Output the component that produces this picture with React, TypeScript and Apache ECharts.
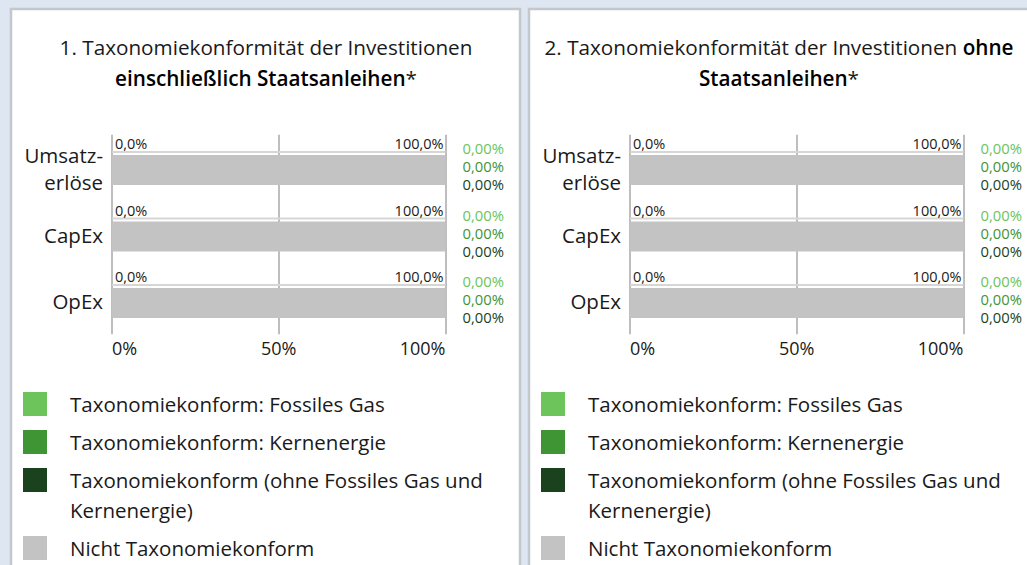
import React, { useEffect, useRef } from 'react';
import * as echarts from 'echarts';

const FONT = "'Open Sans', 'Noto Sans', sans-serif";
const TEXT = '#1a1a1a';

const categories = ['Umsatz-\nerlöse', 'CapEx', 'OpEx'];

const nameGas = 'Taxonomiekonform: Fossiles Gas';
const nameNuclear = 'Taxonomiekonform: Kernenergie';
const nameOther = 'Taxonomiekonform (ohne Fossiles Gas und Kernenergie)';
const nameNon = 'Nicht Taxonomiekonform';

// Panel 1: including sovereign bonds
const gasIncl = [0, 0, 0];
const nuclearIncl = [0, 0, 0];
const otherIncl = [0, 0, 0];
const nonIncl = [100, 100, 100];

// Panel 2: excluding sovereign bonds
const gasExcl = [0, 0, 0];
const nuclearExcl = [0, 0, 0];
const otherExcl = [0, 0, 0];
const nonExcl = [100, 100, 100];

const COLORS = {
  gas: '#6cc45a',
  nuclear: '#3f9434',
  other: '#1a421d',
  non: '#c3c3c3',
  thin: '#d6d6d6',
};

const fmt1 = (v: number) => v.toFixed(1).replace('.', ',') + '%';
const fmt2 = (v: number) => v.toFixed(2).replace('.', ',') + '%';

function buildPanel(
  idx: number,
  gas: number[],
  nuclear: number[],
  other: number[],
  non: number[],
  gridLeft: number,
  legendLeft: number,
  titleCenter: number,
  titleText: string
) {
  const taxSum = gas.map((g, i) => g + nuclear[i] + other[i]);
  const grid = { left: gridLeft, top: 134.75, width: 333.5, height: 199.5 };
  const xAxis = {
    type: 'value',
    gridIndex: idx,
    min: 0,
    max: 100,
    interval: 50,
    axisLine: { show: false },
    axisTick: { show: false },
    splitLine: { show: true, lineStyle: { color: '#a8a8a8', width: 1.5 } },
    axisLabel: {
      formatter: '{value}%',
      fontSize: 18,
      color: TEXT,
      fontFamily: FONT,
      margin: 5,
      alignMinLabel: 'left',
      alignMaxLabel: 'right',
    },
  };
  const yAxis = {
    type: 'category',
    gridIndex: idx,
    data: categories,
    inverse: true,
    axisLine: { show: false },
    axisTick: { show: false },
    axisLabel: {
      fontSize: 20.5,
      color: TEXT,
      fontFamily: FONT,
      lineHeight: 27,
      margin: 9,
    },
  };
  const common = {
    type: 'bar',
    xAxisIndex: idx,
    yAxisIndex: idx,
    barGap: '100%',
    silent: true,
  };
  const series = [
    {
      ...common,
      name: 'Taxonomiekonform gesamt',
      stack: 'thin' + idx,
      barWidth: 2,
      data: taxSum,
      itemStyle: { color: COLORS.thin },
      label: {
        show: true,
        position: [0, 0],
        align: 'left',
        verticalAlign: 'bottom',
        offset: [3, 0],
        fontSize: 14.5,
        color: TEXT,
        fontFamily: FONT,
        formatter: (p: any) => fmt1(p.value),
      },
    },
    {
      ...common,
      name: 'Nicht Taxonomiekonform gesamt',
      stack: 'thin' + idx,
      barWidth: 2,
      data: non,
      itemStyle: { color: COLORS.thin },
      label: {
        show: true,
        position: ['100%', 0],
        align: 'right',
        verticalAlign: 'bottom',
        offset: [-2, 0],
        fontSize: 14.5,
        color: TEXT,
        fontFamily: FONT,
        formatter: (p: any) => fmt1(p.value),
      },
    },
    { ...common, name: nameGas, stack: 'main' + idx, barWidth: 30, data: gas, itemStyle: { color: COLORS.gas } },
    { ...common, name: nameNuclear, stack: 'main' + idx, barWidth: 30, data: nuclear, itemStyle: { color: COLORS.nuclear } },
    { ...common, name: nameOther, stack: 'main' + idx, barWidth: 30, data: other, itemStyle: { color: COLORS.other } },
    {
      ...common,
      name: nameNon,
      stack: 'main' + idx,
      barWidth: 30,
      data: non,
      itemStyle: { color: COLORS.non },
      label: {
        show: true,
        position: 'right',
        distance: 17,
        offset: [0, -4],
        formatter: (p: any) =>
          `{g|${fmt2(gas[p.dataIndex])}}\n{n|${fmt2(nuclear[p.dataIndex])}}\n{o|${fmt2(other[p.dataIndex])}}`,
        rich: {
          g: { color: COLORS.gas, fontSize: 14.8, lineHeight: 18, fontFamily: FONT },
          n: { color: COLORS.nuclear, fontSize: 14.8, lineHeight: 18, fontFamily: FONT },
          o: { color: COLORS.other, fontSize: 14.8, lineHeight: 18, fontFamily: FONT },
        },
      },
    },
  ];
  const legendBase = {
    orient: 'vertical',
    left: legendLeft,
    padding: 0,
    itemWidth: 24,
    itemHeight: 24,
    icon: 'rect',
    selectedMode: false,
    textStyle: { fontSize: 20.5, color: TEXT, fontFamily: FONT, padding: [0, 0, 0, 18] },
  };
  const legends = [
    { ...legendBase, top: 392, data: [nameGas] },
    { ...legendBase, top: 430, data: [nameNuclear] },
    {
      ...legendBase,
      top: 435,
      data: [nameOther],
      formatter: () => '\nTaxonomiekonform (ohne Fossiles Gas und\nKernenergie)',
      textStyle: { fontSize: 20.5, color: TEXT, fontFamily: FONT, lineHeight: 30, padding: [0, 0, 0, 18] },
    },
    { ...legendBase, top: 536, data: [nameNon] },
  ];
  const title = {
    text: titleText,
    left: titleCenter,
    top: 31,
    padding: 0,
    textAlign: 'center',
    textStyle: {
      fontWeight: 'normal',
      fontSize: 20.7,
      fontFamily: FONT,
      rich: {
        n: { fontSize: 20.7, color: TEXT, fontFamily: FONT, fontWeight: 'normal', lineHeight: 31 },
        b: { fontSize: 20.7, color: '#000', fontFamily: FONT, fontWeight: 600, lineHeight: 31 },
      },
    },
  };
  return { grid, xAxis, yAxis, series, legends, title };
}

export default function App() {
  const ref = useRef<HTMLDivElement>(null);
  useEffect(() => {
    if (!ref.current) return;
    const chart = echarts.init(ref.current, undefined, { renderer: 'svg' });
    const p1 = buildPanel(
      0, gasIncl, nuclearIncl, otherIncl, nonIncl, 112, 23, 266,
      '{n|1. Taxonomiekonformität der Investitionen}\n{b|einschließlich Staatsanleihen}{n|*}'
    );
    const p2 = buildPanel(
      1, gasExcl, nuclearExcl, otherExcl, nonExcl, 630, 541, 779,
      '{n|2. Taxonomiekonformität der Investitionen }{b|ohne}\n{b|Staatsanleihen}{n|*}'
    );
    chart.setOption({
      animation: false,
      backgroundColor: '#dee6f1',
      textStyle: { fontFamily: FONT },
      graphic: [
        { type: 'rect', z: -10, shape: { x: 11, y: 9, width: 509, height: 600 }, style: { fill: '#ffffff', stroke: '#c3c8cd', lineWidth: 2.5 } },
        { type: 'rect', z: -10, shape: { x: 529, y: 9, width: 520, height: 600 }, style: { fill: '#ffffff', stroke: '#c3c8cd', lineWidth: 2.5 } },
      ],
      title: [p1.title, p2.title],
      grid: [p1.grid, p2.grid],
      xAxis: [p1.xAxis, p2.xAxis],
      yAxis: [p1.yAxis, p2.yAxis],
      legend: [...p1.legends, ...p2.legends],
      series: [...p1.series, ...p2.series],
    });
    return () => chart.dispose();
  }, []);
  return <div ref={ref} style={{ position: 'fixed', left: 0, top: 0, width: 1027, height: 565 }} />;
}
